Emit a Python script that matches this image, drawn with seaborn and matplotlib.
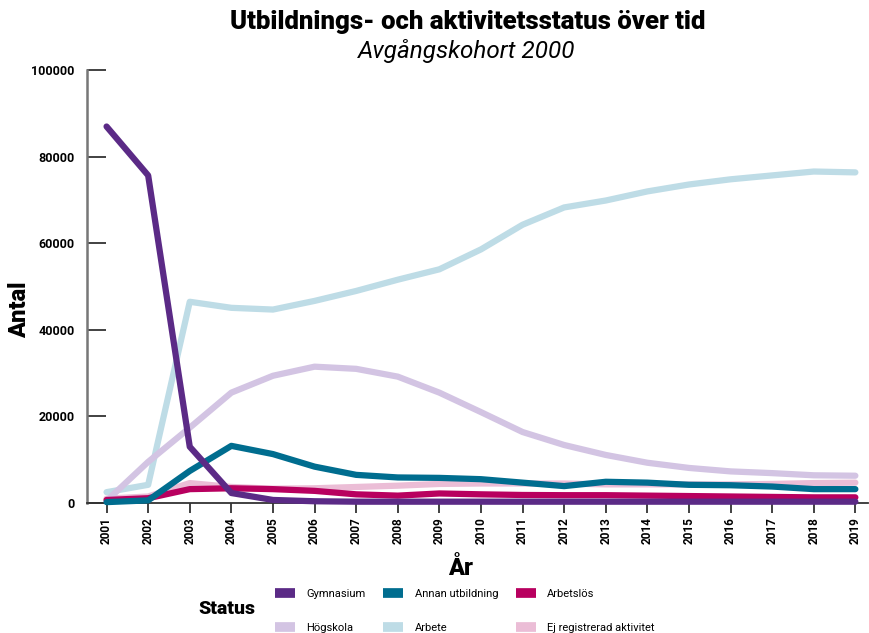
import matplotlib
matplotlib.use("Agg")
import matplotlib.pyplot as plt
import pandas as pd
import seaborn as sns
from matplotlib.lines import Line2D

# data
years = list(range(2001, 2020))
gymnasium = [87000, 75700, 13000, 2300, 700, 400, 300, 300, 300, 300, 300, 300, 300, 300, 300, 300, 300, 300, 300]
annan_utbildning = [200, 600, 7400, 13200, 11300, 8400, 6500, 5900, 5800, 5500, 4700, 3900, 4900, 4700, 4200, 4100, 3800, 3200, 3200]
arbetslos = [700, 1100, 3200, 3400, 3200, 2800, 2000, 1700, 2200, 2000, 1850, 1800, 1800, 1700, 1600, 1500, 1400, 1300, 1300]
hogskola = [500, 9500, 17400, 25500, 29400, 31500, 31000, 29200, 25500, 21000, 16400, 13400, 11100, 9300, 8100, 7300, 6900, 6400, 6300]
arbete = [2500, 4200, 46500, 45100, 44700, 46700, 49000, 51600, 54000, 58600, 64300, 68300, 69900, 72000, 73600, 74800, 75700, 76600, 76400]
ej_registrerad = [1000, 1500, 4600, 3700, 3300, 3400, 3700, 4000, 4400, 4500, 4500, 4500, 4300, 4300, 4300, 4300, 4400, 4600, 4700]

status = ["Gymnasium", "Högskola", "Annan utbildning", "Arbete", "Arbetslös", "Ej registrerad aktivitet"]
values = [gymnasium, hogskola, annan_utbildning, arbete, arbetslos, ej_registrerad]
colors = ["#5B2A86", "#D3C4E3", "#006D8F", "#BEDCE6", "#B8005F", "#EBBDD6"]
# drawing order, bottom to top
draw_order = ["Ej registrerad aktivitet", "Arbete", "Högskola", "Arbetslös", "Annan utbildning", "Gymnasium"]

df = pd.concat([pd.DataFrame({"År": years, "Antal": v, "Status": s}) for s, v in zip(status, values)])
palette = dict(zip(status, colors))

sns.set_theme(style="white")
plt.rcParams["font.family"] = ["Roboto", "DejaVu Sans"]
plt.rcParams["text.color"] = "black"
plt.rcParams["axes.labelcolor"] = "black"
plt.rcParams["xtick.color"] = "black"
plt.rcParams["ytick.color"] = "black"

fig = plt.figure(figsize=(8.7, 6.33), dpi=100)
ax = fig.add_axes([0.1, 0.2054, 0.898, 0.6836])

for z, s in enumerate(draw_order):
    sns.lineplot(data=df[df["Status"] == s], x="År", y="Antal", color=palette[s],
                 linewidth=4.5, ax=ax, legend=False, zorder=3 + z, clip_on=False)

ax.set_xlim(2000.53, 2019.31)
ax.set_ylim(0, 100000)
ax.set_xticks(years)
ax.set_xticklabels([str(y) for y in years], rotation=90, fontweight="bold", fontsize=8.5)
ax.set_yticks(range(0, 100001, 20000))
ax.set_yticklabels([str(v) for v in range(0, 100001, 20000)], fontweight="bold", fontsize=9)
ax.tick_params(axis="y", direction="in", length=14, width=1.3, color="#333333", pad=9, left=True)
ax.tick_params(axis="x", direction="out", length=7, width=1.3, color="#333333", pad=3, bottom=True)

for side in ["top", "right"]:
    ax.spines[side].set_visible(False)
ax.spines["left"].set_color("#777777")
ax.spines["left"].set_linewidth(1.8)
ax.spines["bottom"].set_color("#333333")
ax.spines["bottom"].set_linewidth(1.3)

ax.set_xlabel("År", fontweight="heavy", fontsize=17)
ax.xaxis.set_label_coords(0.478, -0.125)
ax.set_ylabel("Antal", fontweight="heavy", fontsize=17)
ax.yaxis.set_label_coords(-0.072, 0.447)

fig.text(0.537, 0.965, "Utbildnings- och aktivitetsstatus över tid", ha="center", va="center",
         fontsize=18.5, fontweight="heavy")
fig.text(0.537, 0.92, "Avgångskohort 2000", ha="center", va="center",
         fontsize=17.5, fontstyle="italic")

handles = [Line2D([0], [0], color=c, linewidth=7, solid_capstyle="butt") for c in colors]
leg = fig.legend(handles, status, ncol=3, loc="center left", bbox_to_anchor=(0.305, 0.035),
                 frameon=False, fontsize=8, handlelength=1.8, columnspacing=1.6,
                 labelspacing=2.1, handletextpad=1.0)
fig.text(0.228, 0.038, "Status", ha="left", va="center", fontsize=14, fontweight="heavy")

fig.savefig("out.png", dpi=100)
